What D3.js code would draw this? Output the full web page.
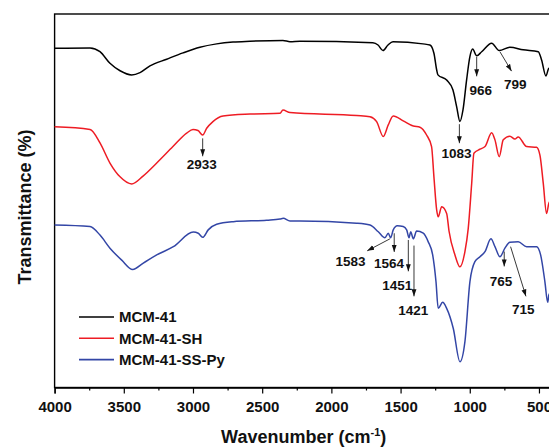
<!DOCTYPE html>
<html>
<head>
<meta charset="utf-8">
<script src="https://cdn.jsdelivr.net/npm/d3@7/dist/d3.min.js"></script>
<style>
  body { margin: 0; background: #fff; }
  svg { display: block; font-family: "Liberation Sans", Arial, sans-serif; font-weight: bold; }
</style>
</head>
<body>
<div id="chart"></div>
<script>
// FTIR spectra (wavenumber cm-1, offset transmittance in arbitrary units)
const mcm41 = [
  [4000, 90.8], [3744, 90.9], [3672, 89.9], [3600, 86.8], [3527, 84.8], [3443, 83.7],
  [3383, 84.3], [3311, 86.1], [3190, 87.9], [3072, 89.6], [2950, 91.1], [2829, 92.0],
  [2711, 92.5], [2588, 92.7], [2350, 92.9], [2299, 92.6], [2227, 92.7], [1700, 92.3],
  [1663, 91.7], [1627, 90.2], [1591, 91.7], [1555, 92.6], [1338, 92.0], [1288, 91.7],
  [1259, 89.5], [1239, 85.0], [1230, 83.7], [1167, 82.3], [1122, 79.7], [1095, 75.2],
  [1071, 71.2], [1049, 74.3], [1023, 82.3], [999, 88.6], [979, 90.6], [950, 88.8],
  [914, 89.9], [842, 92.2], [787, 90.2], [710, 91.1], [614, 90.4], [505, 89.9],
  [481, 87.7], [450, 83.4], [428, 85.5], [400, 84.5]
];

const mcm41SH = [
  [4000, 69.8], [3744, 69.1], [3672, 65.5], [3600, 60.1], [3527, 56.4], [3443, 54.5],
  [3361, 56.6], [3262, 60.1], [3145, 64.5], [3046, 68.1], [3000, 69.1], [2964, 68.8],
  [2930, 67.6], [2901, 69.4], [2856, 71.2], [2783, 72.7], [2588, 73.2], [2371, 73.4],
  [2350, 74.3], [2299, 73.6], [1817, 72.8], [1721, 72.5], [1673, 71.2], [1625, 67.2],
  [1589, 70.3], [1553, 72.7], [1481, 71.4], [1408, 70.0], [1360, 69.7], [1312, 67.6],
  [1276, 64.5], [1259, 56.4], [1239, 47.5], [1228, 45.7], [1203, 48.4], [1167, 46.6],
  [1150, 41.9], [1107, 35.5], [1071, 32.3], [1035, 36.4], [1011, 42.6], [986, 54.7],
  [970, 62.7], [926, 63.8], [890, 64.5], [842, 68.2], [818, 66.3], [787, 61.8],
  [758, 66.3], [710, 67.3], [674, 66.5], [650, 67.1], [589, 64.5], [517, 64.3],
  [493, 62.2], [469, 54.7], [445, 46.6], [428, 49.4], [400, 50.5]
];

const mcm41SSPy = [
  [4000, 43.5], [3744, 43.1], [3672, 40.8], [3600, 37.3], [3515, 34.1], [3436, 31.6],
  [3359, 33.3], [3262, 35.5], [3142, 37.7], [2998, 41.6], [2962, 41.3], [2930, 40.2],
  [2890, 42.2], [2829, 43.7], [2709, 44.4], [2468, 44.8], [2371, 45.1], [2348, 45.3],
  [2299, 44.6], [2227, 44.6], [1817, 44.0], [1721, 43.5], [1661, 41.7], [1613, 40.1],
  [1589, 41.3], [1572, 40.1], [1553, 42.2], [1524, 43.3], [1481, 43.1], [1456, 42.2],
  [1439, 40.1], [1427, 41.7], [1408, 39.8], [1384, 41.9], [1336, 41.3], [1300, 39.0],
  [1268, 35.5], [1244, 28.3], [1228, 21.2], [1196, 22.8], [1167, 21.2], [1119, 15.8],
  [1071, 6.9], [1035, 12.3], [999, 28.3], [963, 33.7], [926, 35.0], [890, 36.4],
  [847, 39.8], [818, 37.7], [782, 35.0], [746, 37.3], [710, 38.9], [650, 39.0],
  [589, 37.7], [517, 37.7], [488, 35.5], [457, 28.3], [437, 22.8], [428, 24.8], [400, 26]
];

const seriesNames = ['MCM-41', 'MCM-41-SH', 'MCM-41-SS-Py'];
const seriesColors = ['#000000', '#ee1c24', '#3346a6'];

const majorTicks = [4000, 3500, 3000, 2500, 2000, 1500, 1000, 500];
const minorTicks = [3750, 3250, 2750, 2250, 1750, 1250, 750];

// peak labels: [text, arrow from [wn, T], arrow to [wn, T], label at [wn, T]]
const peakLabels = [
  ['2933', [2930, 66.7], [2930, 61.9], [2937, 59.8]],
  ['1083', [1075, 70.5], [1075, 65.4], [1095, 62.7]],
  ['966', [950, 88.5], [950, 83.3], [921, 79.6]],
  ['799', [782, 89.9], [698, 84.7], [672, 81.3]],
  ['1583', [1577, 39.8], [1741, 36.6], [1861, 33.9]],
  ['1564', [1546, 41.3], [1546, 36.3], [1584, 33.3]],
  ['1451', [1444, 39.5], [1444, 31.1], [1524, 27.4]],
  ['1421', [1403, 38.0], [1403, 24.4], [1408, 20.7]],
  ['765', [751, 36.4], [751, 32.4], [775, 28.5]],
  ['715', [705, 37.7], [594, 24.4], [614, 21.0]]
];

const width = 549, height = 448;
const svg = d3.select('#chart').append('svg')
  .attr('width', width)
  .attr('height', height);

const x = d3.scaleLinear().domain([4000, 400]).range([54.6, 552.8]);
const y = d3.scaleLinear().domain([0, 100]).range([387.5, 14]);

svg.append('defs').append('marker')
  .attr('id', 'arrow')
  .attr('viewBox', '0 0 10 10')
  .attr('refX', 10).attr('refY', 5)
  .attr('markerWidth', 7).attr('markerHeight', 7)
  .attr('markerUnits', 'userSpaceOnUse')
  .attr('orient', 'auto')
  .append('path')
  .attr('d', 'M0,1.5 L10,5 L0,8.5 Z')
  .attr('fill', '#111');

// frame
svg.append('rect')
  .attr('x', x(4000)).attr('y', y(100))
  .attr('width', x(400) - x(4000)).attr('height', y(0) - y(100))
  .attr('fill', 'none').attr('stroke', '#000').attr('stroke-width', 1.4);

// spectra
const line = d3.line()
  .x(d => x(d[0]))
  .y(d => y(d[1]))
  .curve(d3.curveMonotoneX);

[mcm41, mcm41SH, mcm41SSPy].forEach((data, i) => {
  svg.append('path')
    .datum(data)
    .attr('d', line)
    .attr('fill', 'none')
    .attr('stroke', seriesColors[i])
    .attr('stroke-width', 1.5)
    .attr('stroke-linejoin', 'round');
});

// bottom axis: minor then major ticks
const axisG = svg.append('g').attr('transform', `translate(0,${y(0)})`);
axisG.append('g')
  .call(d3.axisBottom(x).tickValues(minorTicks).tickSize(3).tickFormat(''))
  .call(g => g.select('.domain').remove());
axisG.append('g')
  .call(d3.axisBottom(x).tickValues(majorTicks).tickSize(6).tickPadding(8).tickFormat(d3.format('d')))
  .call(g => g.select('.domain').attr('stroke-width', 1.4));
axisG.selectAll('line').attr('stroke', '#000').attr('stroke-width', 1.2);
axisG.selectAll('text')
  .attr('font-size', 15)
  .attr('font-weight', 'bold')
  .attr('font-family', '"Liberation Sans", Arial, sans-serif')
  .attr('fill', '#111');

// axis titles
const xTitle = svg.append('text')
  .attr('x', (x(4000) + x(400)) / 2)
  .attr('y', 443)
  .attr('text-anchor', 'middle')
  .attr('font-size', 18)
  .attr('fill', '#111');
xTitle.append('tspan').text('Wavenumber (cm');
xTitle.append('tspan').attr('font-size', 11).attr('dy', -7).text('-1');
xTitle.append('tspan').attr('dy', 7).text(')');

svg.append('text')
  .attr('transform', 'translate(31,207) rotate(-90)')
  .attr('text-anchor', 'middle')
  .attr('font-size', 18)
  .attr('fill', '#111')
  .text('Transmittance (%)');

// peak annotations
peakLabels.forEach(([label, from, to, at]) => {
  svg.append('line')
    .attr('x1', x(from[0])).attr('y1', y(from[1]))
    .attr('x2', x(to[0])).attr('y2', y(to[1]))
    .attr('stroke', '#222')
    .attr('stroke-width', 0.9)
    .attr('marker-end', 'url(#arrow)');
  svg.append('text')
    .attr('x', x(at[0])).attr('y', y(at[1]))
    .attr('dy', '0.36em')
    .attr('text-anchor', 'middle')
    .attr('font-size', 13.5)
    .attr('fill', '#111')
    .text(label);
});

// legend
const legend = svg.append('g').attr('transform', 'translate(79,317)');
seriesNames.forEach((name, i) => {
  const row = legend.append('g').attr('transform', `translate(0,${i * 21.3})`);
  row.append('line')
    .attr('x1', 0).attr('x2', 35)
    .attr('stroke', seriesColors[i])
    .attr('stroke-width', 1.6);
  row.append('text')
    .attr('x', 40).attr('dy', '0.36em')
    .attr('font-size', 15)
    .attr('fill', '#111')
    .text(name);
});
</script>
</body>
</html>
